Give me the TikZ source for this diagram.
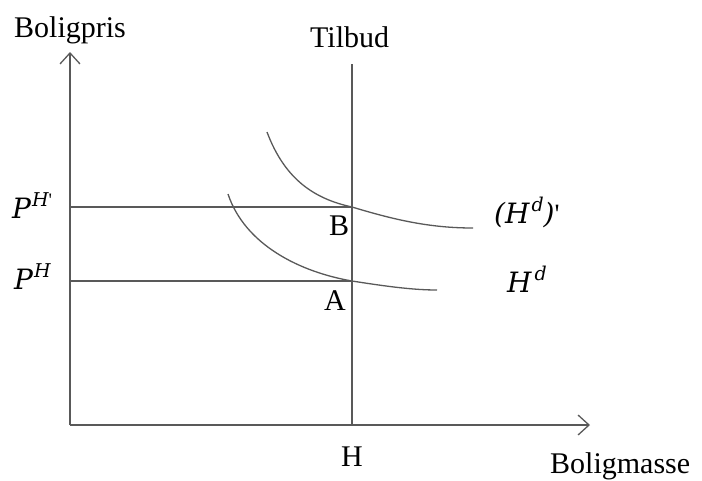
\documentclass[tikz,border=0pt]{standalone}
\usepackage{fontspec}
\setmainfont{Liberation Serif}
\newfontfamily\myitfont{DejaVu Serif}[UprightFont=* Italic]
\usetikzlibrary{arrows.meta}
\newcommand\mysup[1]{\raisebox{0.40em}{\fontsize{19}{20}\selectfont #1}}
\newcommand\myprime{{\rmfamily\textquotesingle}}
\begin{document}
\begin{tikzpicture}[x=1pt,y=-1pt,
  ln/.style={draw=black!65,line width=1.3pt},
  axis/.style={ln,-{Straight Barb[length=11pt,width=20pt,line width=1.3pt]}},
  lbl/.style={font=\fontsize{30}{34}\selectfont,inner sep=0pt,anchor=base west,text=black},
  mlbl/.style={font=\fontsize{28}{32}\selectfont\myitfont,inner sep=0pt,anchor=base west,text=black}]
\useasboundingbox (0,0) rectangle (702,480);
% coordinates
\coordinate (O) at (70,425);
\coordinate (Ytop) at (70,52);
\coordinate (Xend) at (590,425);
\coordinate (Ttop) at (352,64);
\coordinate (Hb) at (352,425);
\coordinate (B) at (352,207);
\coordinate (A) at (352,281);
\coordinate (PB) at (70,207);
\coordinate (PA) at (70,281);
% axes
\draw[axis] (O) -- (Ytop);
\draw[axis] (O) -- (Xend);
% supply
\draw[ln] (Ttop) -- (Hb);
% price lines
\draw[ln] (PB) -- (B);
\draw[ln] (PA) -- (A);
% demand curves
\draw[ln] (267,132) .. controls (285,180) and (315,199) .. (B)
          .. controls (395,220) and (430,228) .. (473,228);
\draw[ln] (228,194) .. controls (245,245) and (300,272) .. (A)
          .. controls (390,287) and (415,290) .. (437,290);
% labels
\node[lbl] (ylab) at (14,37) {Boligpris};
\node[lbl] (tlab) at (310,47) {Tilbud};
\node[lbl] (xlab) at (550,473) {Boligmasse};
\node[lbl] (hlab) at (341,466) {H};
\node[lbl] (blab) at (329,235) {B};
\node[lbl] (alab) at (324,310) {A};
\node[mlbl] (pb) at (12,218) {P\kern1pt\mysup{H\myprime}};
\node[mlbl] (pa) at (14,289) {P\kern1pt\mysup{H}};
\node[mlbl] (hd2) at (494,223) {(H\kern2pt\mysup{d})\myprime};
\node[mlbl] (hd) at (507,292) {H\kern3pt\mysup{d}};
\end{tikzpicture}
\end{document}
